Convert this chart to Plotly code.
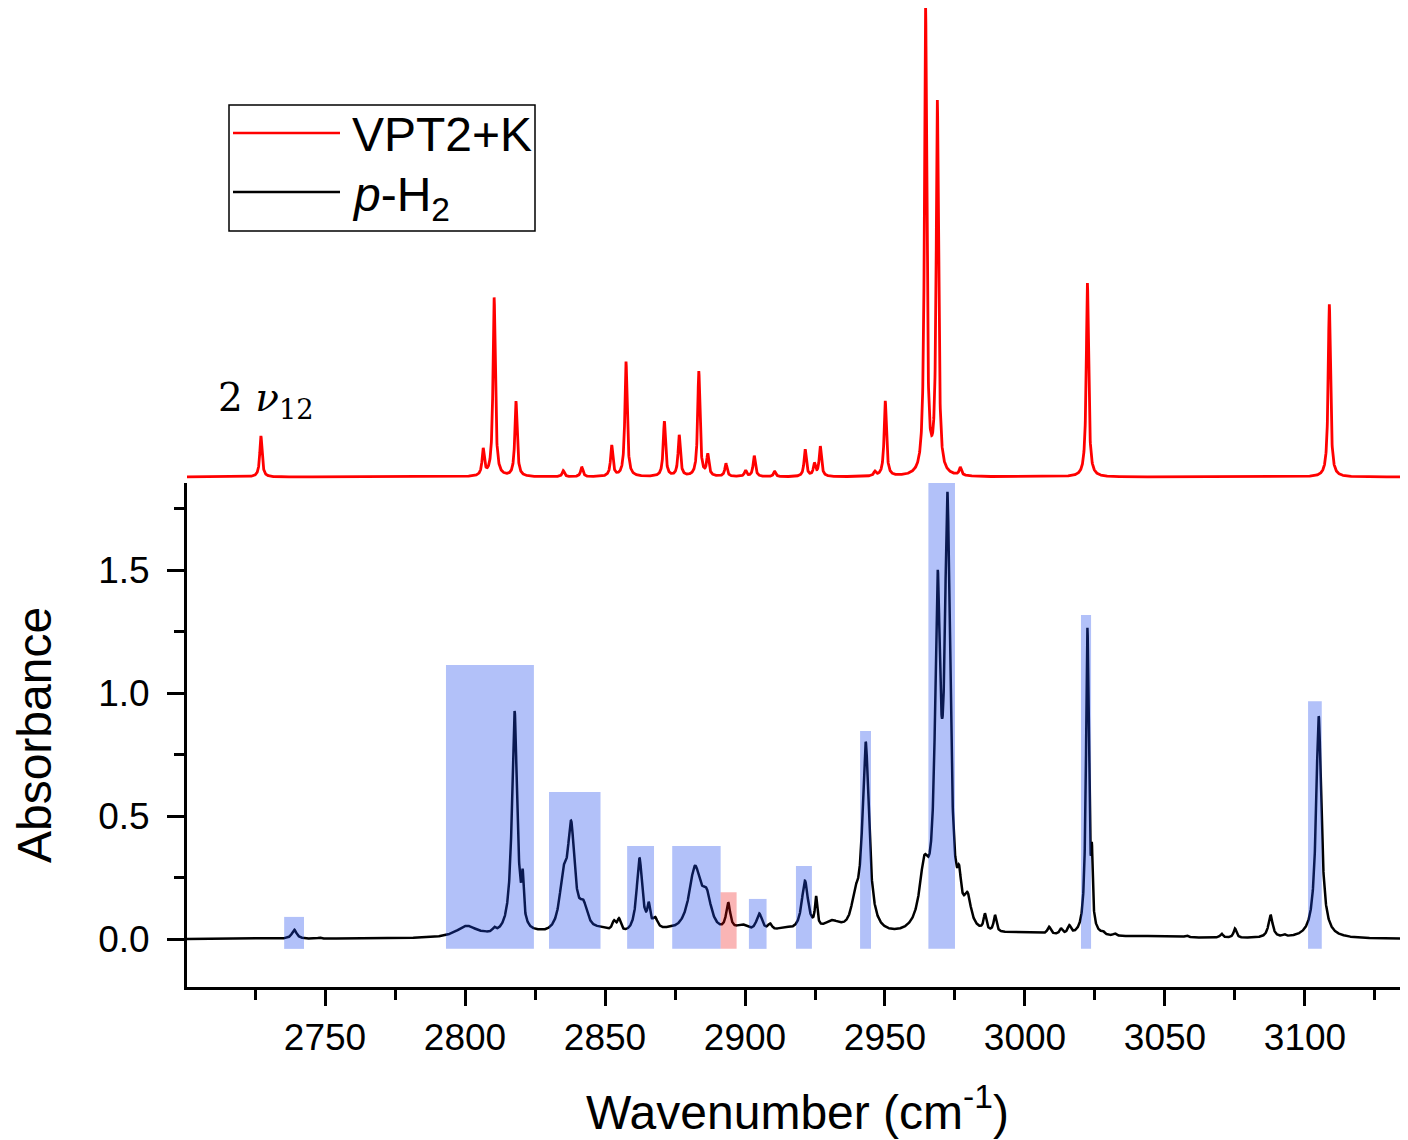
import numpy as np
import plotly.graph_objects as go

# ---------------- data ----------------
# VPT2+K computed stick spectrum: band positions (cm-1) and relative intensities
calc_pos = [2727.1, 2806.5, 2810.4, 2818.2, 2835.1, 2841.7, 2852.4, 2857.5, 2871.2,
            2876.5, 2883.5, 2886.7, 2893.2, 2900.2, 2903.3, 2910.6, 2921.5, 2924.8,
            2926.9, 2946.4, 2950.1, 2964.5, 2968.7, 2976.9, 3022.3, 3108.7]
calc_int = [8.8, 5.6, 38.3, 16.1, 1.3, 2.1, 6.6, 24.6, 11.8,
            8.8, 22.5, 4.5, 2.8, 1.3, 4.5, 1.1, 5.8, 2.6,
            6.4, 0.9, 16.1, 100.0, 79.4, 1.7, 41.5, 37.0]
calc_hwhm = 0.48

# p-H2 experimental spectrum: band centres (cm-1), absorbance at centre, half widths
exp_pos = [2739.0, 2748.0, 2800.6, 2806.8, 2810.4, 2817.7, 2820.6, 2826.0, 2835.1,
           2837.9, 2842.3, 2848.5, 2853.2, 2855.0, 2862.3, 2865.6, 2867.9, 2872.5,
           2882.1, 2886.3, 2894.0, 2899.0, 2905.1, 2908.9, 2914.0, 2921.4, 2925.4,
           2931.0, 2939.3, 2943.1, 2964.0, 2968.8, 2972.3, 2976.5, 2979.5, 2985.7,
           2989.3, 2996.0, 3004.0, 3008.6, 3012.9, 3015.8, 3022.3, 3023.9, 3027.8,
           3032.1, 3045.0, 3057.7, 3070.2, 3075.0, 3087.7, 3092.6, 3104.9, 3106.7,
           3114.3]
exp_abs = [0.038, 0.006, 0.054, 0.035, 0.050, 0.927, 0.285, 0.040, 0.294,
           0.481, 0.159, 0.050, 0.077, 0.085, 0.330, 0.152, 0.090, 0.050,
           0.298, 0.206, 0.149, 0.060, 0.104, 0.064, 0.050, 0.237, 0.175,
           0.077, 0.213, 0.802, 0.340, 1.500, 1.818, 0.300, 0.190, 0.104,
           0.098, 0.030, 0.025, 0.050, 0.043, 0.057, 1.265, 0.393, 0.034,
           0.023, 0.012, 0.015, 0.022, 0.043, 0.098, 0.020, 0.906, 0.253,
           0.015]
exp_hwhm = [1.0, 0.6, 4.5, 0.7, 0.7, 1.1, 0.4, 3.0, 1.6,
            1.5, 1.8, 4.0, 0.8, 0.8, 1.2, 0.6, 1.2, 4.0,
            2.6, 2.0, 0.9, 3.0, 1.3, 1.0, 4.0, 1.4, 0.5,
            4.0, 1.5, 1.4, 2.0, 1.1, 1.15, 0.8, 1.5, 0.6,
            0.6, 6.0, 8.0, 0.7, 0.7, 0.7, 0.6, 0.3, 0.6,
            0.6, 15.0, 0.6, 0.6, 0.6, 0.9, 0.6, 1.1, 0.9,
            0.6]

# highlighted regions (cm-1) and their heights (absorbance)
box_lo = [2735.4, 2793.2, 2830.0, 2857.9, 2874.0, 2901.4, 2918.2, 2941.1, 2965.5, 3020.0, 3101.1]
box_hi = [2742.5, 2824.6, 2848.4, 2867.5, 2891.3, 2907.7, 2923.9, 2945.0, 2975.0, 3023.6, 3106.0]
box_top = [0.09, 1.114, 0.598, 0.378, 0.378, 0.163, 0.297, 0.846, 1.86, 1.317, 0.967]
box_bottom = -0.04
red_box_lo, red_box_hi, red_box_top = 2891.3, 2897.0, 0.19

x_ticks = [2750, 2800, 2850, 2900, 2950, 3000, 3050, 3100]
x_minor = [2725, 2775, 2825, 2875, 2925, 2975, 3025, 3075, 3125]
y_ticks = [0.0, 0.5, 1.0, 1.5]
y_minor = [0.25, 0.75, 1.25, 1.75]

# ---------------- build curves ----------------
wn = np.arange(2700.0, 3140.0, 0.05)


def lor(x, c, g):
    return g * g / ((x - c) ** 2 + g * g)


calc = np.zeros_like(wn)
for c, h in zip(calc_pos, calc_int):
    calc += h * lor(wn, c, calc_hwhm)

P = np.array(exp_pos)
G = np.array(exp_hwhm)
M = lor(P[:, None], P[None, :], G[None, :])
amp = np.linalg.solve(M, np.array(exp_abs))
expt = np.zeros_like(wn)
for c, a, g in zip(exp_pos, amp, exp_hwhm):
    expt += a * lor(wn, c, g)

# ---------------- figure ----------------
FONT = "Liberation Sans, Arial, sans-serif"
OFF = 8                      # page body margin
W, H = 1400, 1132
L, R, T, B = 179, 0, 0, 153
PW, PH = W - L - R, H - T - B
split = (979 - 475) / PH


def px(xs):
    return (xs - OFF - L) / PW


def py(ys):
    return (PH - (ys - OFF)) / PH


fig = go.Figure()
fig.add_trace(go.Scatter(x=wn, y=expt, mode="lines", line=dict(color="black", width=2.5),
                         xaxis="x", yaxis="y", name="p-H2", showlegend=False))
fig.add_trace(go.Scatter(x=wn, y=calc, mode="lines", line=dict(color="#ff0000", width=2.8),
                         xaxis="x2", yaxis="y2", name="VPT2+K", showlegend=False))

blue = "rgba(30,74,237,0.34)"
for lo, hi, top in zip(box_lo, box_hi, box_top):
    fig.add_shape(type="rect", xref="x", yref="y", x0=lo, x1=hi, y0=box_bottom, y1=top,
                  fillcolor=blue, line=dict(width=0), layer="above")
fig.add_shape(type="rect", xref="x", yref="y", x0=red_box_lo, x1=red_box_hi, y0=box_bottom,
              y1=red_box_top, fillcolor="rgba(240,10,10,0.30)", line=dict(width=0), layer="above")

# hand drawn legend
fig.add_shape(type="rect", xref="paper", yref="paper", x0=px(229), x1=px(535), y0=py(231), y1=py(105),
              line=dict(color="black", width=1.5), fillcolor="rgba(0,0,0,0)")
fig.add_shape(type="line", xref="paper", yref="paper", x0=px(233), x1=px(340), y0=py(133), y1=py(133),
              line=dict(color="#ff0000", width=2.5))
fig.add_shape(type="line", xref="paper", yref="paper", x0=px(233), x1=px(340), y0=py(192), y1=py(192),
              line=dict(color="black", width=2.5))
fig.add_annotation(xref="paper", yref="paper", x=px(350), y=py(134), text="VPT2+K", showarrow=False,
                   xanchor="left", yanchor="middle", font=dict(family=FONT, size=48, color="black"))
fig.add_annotation(xref="paper", yref="paper", x=px(350), y=py(198), text="<i>p</i>-H<sub>2</sub>",
                   showarrow=False, xanchor="left", yanchor="middle",
                   font=dict(family=FONT, size=48, color="black"))
fig.add_annotation(xref="paper", yref="paper", x=px(216), y=py(400), text="2 <i>ν</i><sub>12</sub>",
                   showarrow=False, xanchor="left", yanchor="middle",
                   font=dict(family="DejaVu Serif, serif", size=39, color="black"))

xr = [2700.7, 3136.8]
fig.update_layout(
    width=W, height=H, margin=dict(l=L, r=R, t=T, b=B, autoexpand=False),
    paper_bgcolor="white", plot_bgcolor="white", showlegend=False,
    font=dict(family=FONT, color="black"),
    xaxis=dict(domain=[0, 1], anchor="y", range=xr, showgrid=False, zeroline=False, automargin=False,
               showline=True, linecolor="black", linewidth=3, ticks="outside", ticklen=16,
               tickwidth=2.5, tickcolor="black", tickvals=x_ticks,
               tickfont=dict(family=FONT, size=37),
               minor=dict(tickvals=x_minor, ticklen=10, tickwidth=2.5, tickcolor="black",
                          ticks="outside"),
               title=dict(text="Wavenumber (cm<sup>-1</sup>)", font=dict(family=FONT, size=48),
                          standoff=38)),
    yaxis=dict(domain=[0, split], anchor="x", range=[-0.195, 1.854], showgrid=False, zeroline=False,
               automargin=False,
               showline=True, linecolor="black", linewidth=3, ticks="outside", ticklen=17,
               tickwidth=2.5, tickcolor="black", tickvals=y_ticks, tickformat=".1f",
               tickfont=dict(family=FONT, size=37), ticklabelstandoff=10,
               minor=dict(tickvals=y_minor, ticklen=10, tickwidth=2.5, tickcolor="black",
                          ticks="outside"),
               title=dict(text="Absorbance", font=dict(family=FONT, size=48), standoff=36)),
    xaxis2=dict(domain=[0, 1], anchor="y2", range=xr, visible=False, matches="x"),
    yaxis2=dict(domain=[split, 1], anchor="x2", range=[-1.285, 100.43], visible=False),
)

fig.write_html("out.html")
